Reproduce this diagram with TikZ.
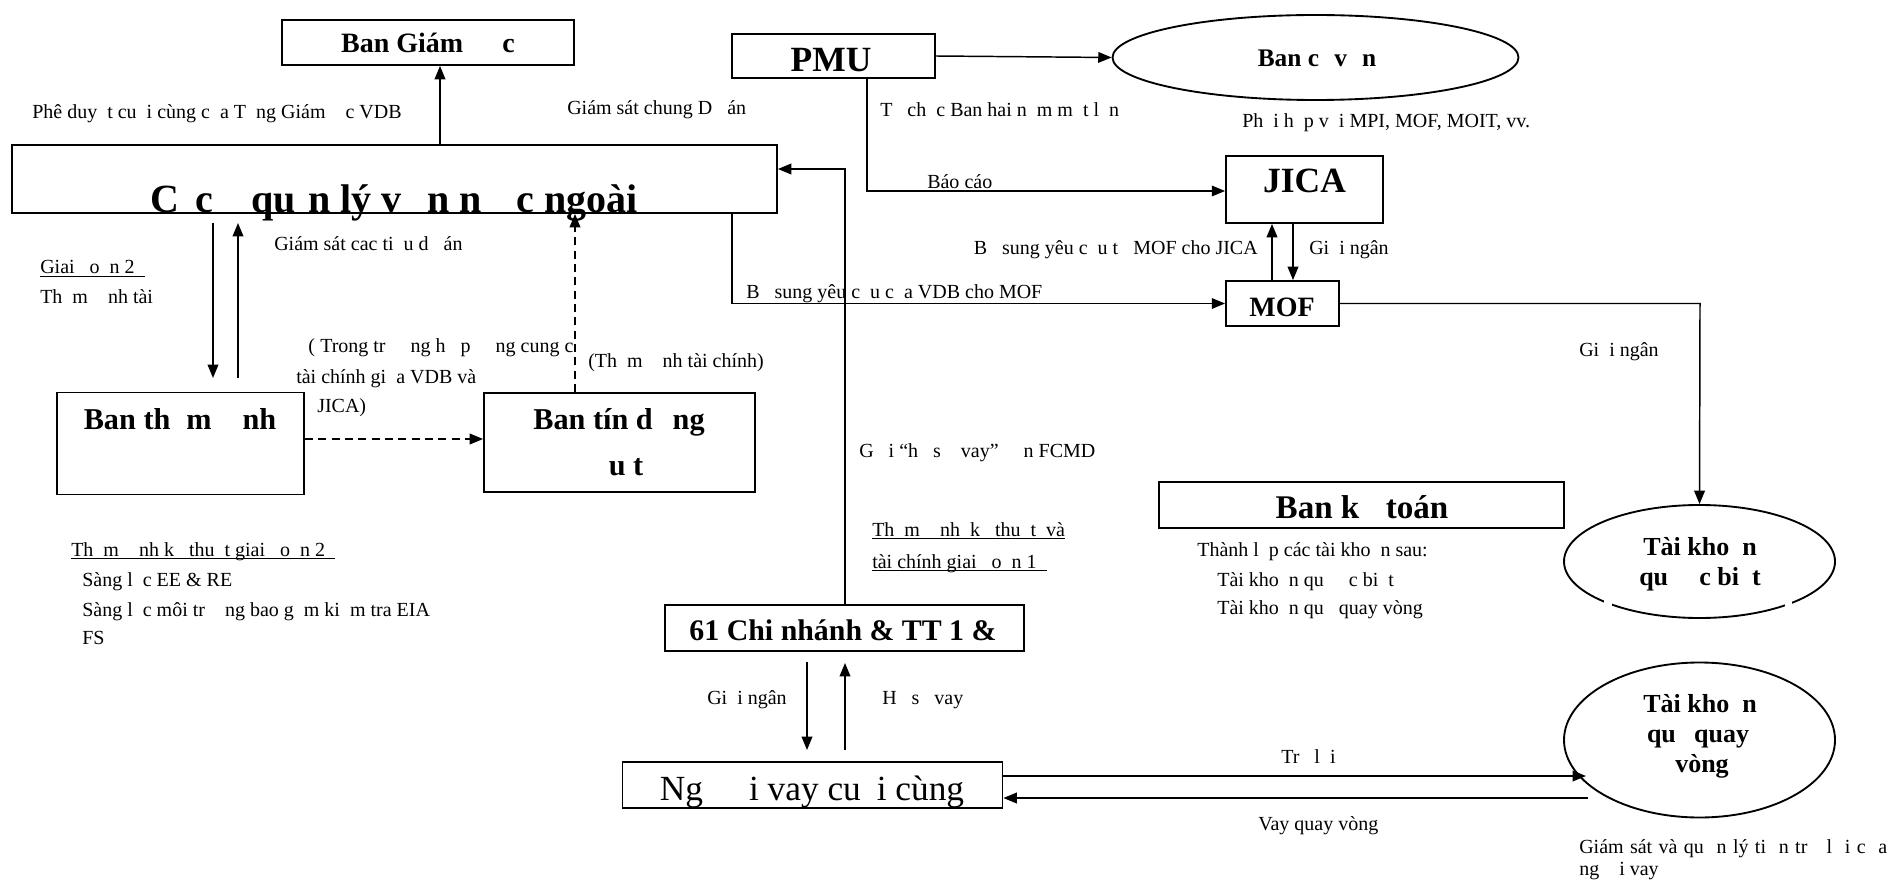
\documentclass[tikz,border=0pt]{standalone}
\usepackage{fontspec}
\setmainfont{Liberation Serif}
\usetikzlibrary{shapes.geometric,arrows.meta}
\newcommand\ulx[1]{\underline{\smash{#1}}}
\newcommand\gp[1]{\hspace{#1em}}
\begin{document}
\begin{tikzpicture}[x=0.75pt,y=-0.75pt]
\tikzset{
  box/.style={draw,line width=1.4pt,rectangle,inner sep=0pt},
  ell/.style={draw,line width=1.4pt,ellipse,inner sep=0pt},
  ln/.style={line width=1.1pt},
  arr/.style={line width=1.1pt,-{Triangle[length=10pt,width=8pt]}},
  dsh/.style={dash pattern=on 6pt off 4pt},
  txt/.style={inner sep=0pt,anchor=base west,font=\fontsize{15}{18}\selectfont},
  ttl/.style={inner sep=0pt,anchor=base},
}
\useasboundingbox (0,0) rectangle (1891,880);

% boxes
\node[box,minimum width=219pt,minimum height=33.75pt] (bgd) at (428,42.5) {};
\node[box,minimum width=152.25pt,minimum height=33pt] (pmu) at (833.5,56) {};
\node[ell,minimum width=304.5pt,minimum height=63.75pt] (bcv) at (1315.5,57.5) {};
\node[box,minimum width=117.75pt,minimum height=50.25pt] (jica) at (1304.5,189.5) {};
\node[box,minimum width=84.75pt,minimum height=33.75pt] (mof) at (1282.5,303.5) {};
\node[ell,minimum width=203.25pt,minimum height=84.75pt] (tkdb) at (1699.5,561.5) {};
\node[box,minimum width=303.75pt,minimum height=34.5pt] (bkt) at (1361.5,505) {};
\node[box,minimum width=573.75pt,minimum height=51pt] (main) at (394.5,179) {};
\node[box,minimum width=185.25pt,minimum height=76.5pt] (btd) at (180.5,443.5) {};
\node[box,minimum width=203.25pt,minimum height=74.25pt] (btdung) at (619.5,442.5) {};
\node[box,minimum width=269.25pt,minimum height=34.5pt] (cn) at (844.5,628) {};
\node[box,minimum width=285pt,minimum height=34.5pt] (nv) at (812.5,785) {};
\node[ell,minimum width=203.25pt,minimum height=116.25pt] (tkqv) at (1699.5,740) {};

% small gaps in the lower outline of the special account ellipse
\fill[white] (1604,597) rectangle (1612,610);
\fill[white] (1785,596) rectangle (1792,609);

% titles
\node[ttl,font=\bfseries\fontsize{21}{25}\selectfont] (tbgd) at (428,53) {Ban Giám\gp{1.4}c};
\node[ttl,font=\bfseries\fontsize{26.6}{32}\selectfont] (tpmu) at (831,72) {PMU};
\node[ttl,font=\bfseries\fontsize{19}{23}\selectfont] (tbcv) at (1317,67) {Ban c\gp{0.6}v\gp{0.6}n};
\node[ttl,font=\bfseries\fontsize{26.6}{32}\selectfont] (tjica) at (1304.5,193) {JICA};
\node[ttl,font=\bfseries\fontsize{21}{25}\selectfont] (tmof) at (1282,317) {MOF};
\node[ttl,font=\bfseries\fontsize{24.8}{30}\selectfont] (tbkt) at (1362,518) {Ban k\gp{0.8}toán};
\node[ttl,font=\bfseries\fontsize{30}{36}\selectfont] (tmain) at (394,213) {C\gp{0.42}c\gp{0.95}qu\gp{0.3}n lý v\gp{0.65}n n\gp{0.87}c ngoài};
\node[ttl,font=\bfseries\fontsize{22.7}{27}\selectfont] (tbtd) at (180,429) {Ban th\gp{0.53}m\gp{1.02}nh};
\node[ttl,font=\bfseries\fontsize{22.7}{27}\selectfont] (tbtdung1) at (619,429) {Ban tín d\gp{0.66}ng};
\node[ttl,font=\bfseries\fontsize{22.7}{27}\selectfont] (tbtdung2) at (626,475) {u t};
\node[ttl,font=\bfseries\fontsize{22.4}{27}\selectfont] (tcn) at (843,640) {61 Chi nhánh \& TT 1 \&};
\node[ttl,font=\fontsize{26.5}{32}\selectfont] (tnv) at (812,800) {Ng\gp{1.3}i vay cu\gp{0.45}i cùng};
\node[ttl,font=\bfseries\fontsize{19.5}{24}\selectfont] (ttk1) at (1700,555) {Tài kho\gp{0.5}n};
\node[ttl,font=\bfseries\fontsize{19.5}{24}\selectfont] (ttk2) at (1700,585) {qu\gp{1.2}c bi\gp{0.5}t};
\node[ttl,font=\bfseries\fontsize{19.5}{24}\selectfont] (tqv1) at (1700,712) {Tài kho\gp{0.5}n};
\node[ttl,font=\bfseries\fontsize{19.5}{24}\selectfont] (tqv2) at (1698,742) {qu\gp{0.7}quay};
\node[ttl,font=\bfseries\fontsize{19.5}{24}\selectfont] (tqv3) at (1702,772) {vòng};

% small texts
\node[txt] (l1) at (32,119) {Phê duy~~t cu~~i cùng c~~a T~~ng Giám~~~~c VDB};
\node[txt] (l2) at (567,115) {Giám sát chung D~~~án};
\node[txt] (l3) at (880,117) {T~~~ch~~c Ban hai n~~m m~~t l~~n};
\node[txt] (l4) at (1242,128) {Ph~~i h~~p v~~i MPI, MOF, MOIT, vv.};
\node[txt] (l5) at (927,189) {Báo cáo};
\node[txt,anchor=base east] (l6) at (1258,255) {B~~~sung yêu c~~u t~~~MOF cho JICA};
\node[txt] (l7) at (1309,255) {Gi~~i ngân};
\node[txt] (l8) at (746,299) {B~~~sung yêu c~~u c~~a VDB cho MOF};
\node[txt] (l9) at (1579,357) {Gi~~i ngân};
\node[txt] (l10) at (1197,556) {Thành l~~p các tài kho~~n sau:};
\node[txt] (l11) at (1217,586) {Tài kho~~n qu~~~~~c bi~~t};
\node[txt] (l12) at (1217,614) {Tài kho~~n qu~~~quay vòng};
\node[txt] (l13) at (274,251) {Giám sát cac ti~~u d~~~án};
\node[txt] (l14) at (40,274) {\ulx{Giai~~~o~~n 2~~}};
\node[txt] (l15) at (40,304) {Th~~m~~~~nh tài};
\node[txt] (l16) at (308,353) {(\kern4pt Trong tr~~~~~ng h~~~p~~~~~ng cung c};
\node[txt] (l17) at (296,383) {tài chính gi~~a VDB và};
\node[txt] (l18) at (317,412) {JICA)};
\node[txt] (l19) at (588,368) {(Th~~m~~~~nh tài chính)};
\node[txt] (l20) at (859,457) {G~~~i “h~~~s~~~~vay”~~~~~n FCMD};
\node[txt] (l21) at (872,536) {\ulx{Th~~m~~~~nh~~k~~~thu~~t~~và}};
\node[txt] (l22) at (872,568) {\ulx{tài chính giai~~~o~~n 1~~}};
\node[txt] (l23) at (71,556) {\ulx{Th~~m~~~~nh k~~~thu~~t giai~~~o~~n 2~~}};
\node[txt] (l24) at (82,586) {Sàng l~~c EE \& RE};
\node[txt] (l25) at (82,616) {Sàng l~~c môi tr~~~~ng bao g~~m ki~~m tra EIA};
\node[txt] (l26) at (82,644) {FS};
\node[txt] (l27) at (707,704) {Gi~~i ngân};
\node[txt] (l28) at (882,704) {H~~~s~~~vay};
\node[txt] (l29) at (1281,763) {Tr~~~l~~i};
\node[txt] (l30) at (1258,830) {Vay quay vòng};
\node[txt] (l31) at (1579,853) {\makebox[231pt][s]{Giám sát và qu~~n lý ti~~n tr~~~l~~i c~~a}};
\node[txt] (l32) at (1579,875) {ng~~~~i vay};

% helper coordinates
\coordinate (xa) at (440,0);
\coordinate (c1) at (867,191);
\coordinate (xu) at (1272,0);
\coordinate (xd) at (1293,0);
\coordinate (c2) at (732,303.5);
\coordinate (c3) at (1700,303.5);
\coordinate (d1) at (213,223);
\coordinate (d2) at (213,378);
\coordinate (u1) at (238,378);
\coordinate (u2) at (238,223);
\coordinate (yd) at (0,439);
\coordinate (xv) at (575,0);
\coordinate (c4) at (845,169);
\coordinate (e1) at (807,662);
\coordinate (e2) at (807,750);
\coordinate (f1) at (845,750);
\coordinate (f2) at (845,663);
\coordinate (g1) at (0,776);
\coordinate (g2) at (1586,776);
\coordinate (h1) at (1588,798);

% connectors
\draw[arr] (main.north -| xa) -- (bgd.south -| xa);
\draw[arr] (pmu.east) -- (bcv.west);
\draw[arr] (pmu.south -| c1) -- (c1) -- (jica.west |- c1);
\draw[arr] (mof.north -| xu) -- (jica.south -| xu);
\draw[arr] (jica.south -| xd) -- (mof.north -| xd);
\draw[arr] (main.south -| c2) -- (c2) -- (mof.west);
\draw[arr] (mof.east) -- (c3) -- (tkdb.north);
\draw[arr] (d1) -- (d2);
\draw[arr] (u1) -- (u2);
\draw[arr,dsh] (btd.east |- yd) -- (btdung.west |- yd);
\draw[arr,dsh] (btdung.north -| xv) -- (main.south -| xv);
\draw[arr] (cn.north -| c4) -- (c4) -- (main.east |- c4);
\draw[arr] (e1) -- (e2);
\draw[arr] (f1) -- (f2);
\draw[arr] (nv.east |- g1) -- (g2);
\draw[arr] (h1) -- (nv.east |- h1);
\end{tikzpicture}
\end{document}
